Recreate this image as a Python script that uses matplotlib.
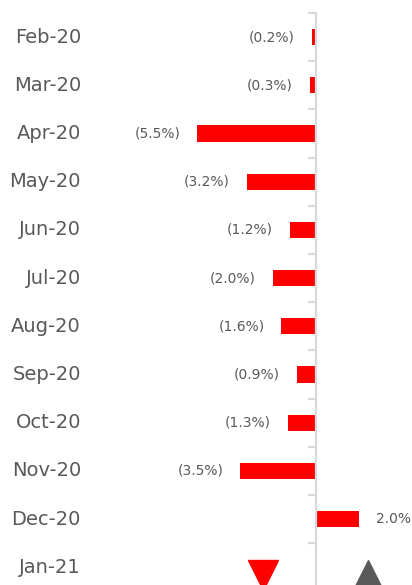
import numpy as np
import matplotlib
matplotlib.use("Agg")
from matplotlib import pyplot as plt

# monthly change, percent
months = ['Feb-20', 'Mar-20', 'Apr-20', 'May-20', 'Jun-20', 'Jul-20',
          'Aug-20', 'Sep-20', 'Oct-20', 'Nov-20', 'Dec-20', 'Jan-21']
changes = [-0.2, -0.3, -5.5, -3.2, -1.2, -2.0, -1.6, -0.9, -1.3, -3.5, 2.0, np.nan]

# arrow icons on the last row
icon_x = [-2.45, 2.42]
icon_marker = ['v', '^']
icon_color = ['#ff0000', '#595959']

text_grey = '#595959'
axis_grey = '#d9d9d9'

plt.rcParams['font.family'] = ['DejaVu Sans']

fig = plt.figure(figsize=(4.12, 5.85), dpi=100)
W, H = 412, 585
ax = fig.add_axes([100 / W, 0, 312 / W, 1 - 13 / H])

ypos = np.arange(len(months))
ax.barh(ypos, changes, height=0.34, color='#ff0000', zorder=2)

for y, v in zip(ypos, changes):
    if np.isnan(v):
        continue
    if v < 0:
        ax.text(v - 0.78, y, '(%.1f%%)' % abs(v), ha='right', va='center',
                fontsize=10, color=text_grey)
    else:
        ax.text(v + 0.78, y, '%.1f%%' % v, ha='left', va='center',
                fontsize=10, color=text_grey)

# category labels on the left
for y, m in zip(ypos, months):
    ax.text(-0.061, y, m, transform=ax.get_yaxis_transform(), ha='right',
            va='center', fontsize=14, color=text_grey)

last = ypos[-1]
for x, mk, c in zip(icon_x, icon_marker, icon_color):
    ax.plot([x], [last + 0.17], marker=mk, ms=22, color=c, ls='none',
            clip_on=False, zorder=3)

for s in ['top', 'right', 'bottom']:
    ax.spines[s].set_visible(False)
ax.spines['left'].set_position(('data', 0))
ax.spines['left'].set_color(axis_grey)
ax.spines['left'].set_linewidth(1.6)

ax.set_xticks([])
ax.set_yticks(ypos)
ax.set_yticklabels([])
ax.tick_params(axis='y', which='major', length=0)
ax.set_yticks(np.arange(-0.5, len(months) - 0.5, 1.0), minor=True)
ax.tick_params(axis='y', which='minor', length=6, width=1.6, color=axis_grey)

# limits last, so the tick setters do not widen them
ax.set_xlim((100 - 316) / 21.6, (412 - 316) / 21.6)
ax.set_ylim(-0.5 + 572 / 48.2, -0.5)

fig.savefig('out.png', dpi=100)
